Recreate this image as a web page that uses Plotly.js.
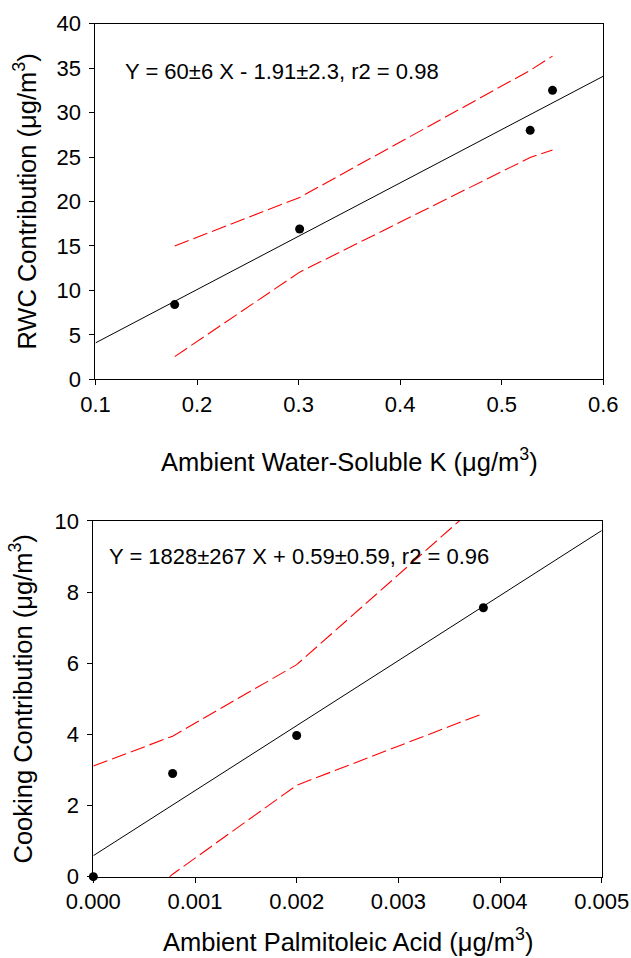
<!DOCTYPE html>
<html>
<head>
<meta charset="utf-8">
<script src="https://cdn.plot.ly/plotly-3.0.1.min.js"></script>
<style>html,body{margin:0;padding:0;background:#fff;}#chart{width:631px;height:958px;}</style>
</head>
<body>
<div id="chart"></div>
<script>
// ---- Top panel: RWC vs ambient water-soluble K ----
var kX = [0.178, 0.301, 0.528, 0.550];
var rwcY = [8.4, 16.9, 28.0, 32.5];
var kFitX = [0.1, 0.6];
var kFitY = [4.09, 34.09];
var kUpper = [15.0, 20.45, 34.75, 36.35];
var kLower = [2.55, 12.05, 24.95, 25.8];
var kEquation = "Y = 60±6 X - 1.91±2.3, r2 = 0.98";

// ---- Bottom panel: Cooking vs ambient palmitoleic acid ----
var paX = [0.0, 0.00078, 0.002, 0.003836];
var cookY = [0.0, 2.9, 3.97, 7.56];
var paFitX = [0.0, 0.005];
var paFitY = [0.59, 9.73];
var paUpper = [3.11, 3.95, 5.96, 10.6];
var paLower = [-1.93, 0.07, 2.57, 4.59];
var paEquation = "Y = 1828±267 X + 0.59±0.59, r2 = 0.96";
var paXTitle = "Ambient Palmitoleic Acid (μg/m<sup>3</sup>)";

var FONT = "Liberation Sans, Arial, sans-serif";
var dashRed = {color: "#ff0000", width: 1.1, dash: "15px,5px"};

var traces = [
  {x: kFitX, y: kFitY, mode: "lines", line: {color: "#000", width: 1}, xaxis: "x", yaxis: "y"},
  {x: kX, y: kUpper, mode: "lines", line: dashRed, xaxis: "x", yaxis: "y"},
  {x: kX, y: kLower, mode: "lines", line: dashRed, xaxis: "x", yaxis: "y"},
  {x: kX, y: rwcY, mode: "markers", marker: {color: "#000", size: 9}, cliponaxis: false, xaxis: "x", yaxis: "y"},
  {x: paFitX, y: paFitY, mode: "lines", line: {color: "#000", width: 1}, xaxis: "x2", yaxis: "y2"},
  {x: paX, y: paUpper, mode: "lines", line: dashRed, xaxis: "x2", yaxis: "y2"},
  {x: paX, y: paLower, mode: "lines", line: dashRed, xaxis: "x2", yaxis: "y2"},
  {x: paX, y: cookY, mode: "markers", marker: {color: "#000", size: 9}, cliponaxis: false, xaxis: "x2", yaxis: "y2"}
];

function axisBase(extra) {
  var a = {
    showgrid: false, zeroline: false, showline: true, mirror: true,
    linecolor: "#000", linewidth: 1, ticks: "outside", ticklen: 5, tickwidth: 1, tickcolor: "#000",
    tickfont: {family: FONT, size: 22, color: "#000"}
  };
  for (var k in extra) a[k] = extra[k];
  return a;
}

var titleFont = {family: FONT, size: 25.5, color: "#000"};

var layout = {
  width: 631, height: 958,
  margin: {l: 0, r: 0, t: 0, b: 0},
  paper_bgcolor: "#fff", plot_bgcolor: "#fff",
  showlegend: false,
  font: {family: FONT, color: "#000"},
  xaxis: axisBase({
    domain: [0.1513, 0.9561], anchor: "y", range: [0.1, 0.6], dtick: 0.1, tick0: 0.1, tickformat: ".1f",
    title: {text: "Ambient Water-Soluble K (μg/m<sup>3</sup>)", font: titleFont, standoff: 37}
  }),
  yaxis: axisBase({
    domain: [0.6041, 0.9753], anchor: "x", range: [0, 40], dtick: 5, ticklabelstandoff: 4,
    title: {text: "RWC Contribution (μg/m<sup>3</sup>)", font: titleFont, standoff: 12}
  }),
  xaxis2: axisBase({
    domain: [0.1479, 0.9536], anchor: "y2", range: [0, 0.005], dtick: 0.001, tick0: 0, tickformat: ".3f"
  }),
  yaxis2: axisBase({
    domain: [0.0849, 0.4562], anchor: "x2", range: [0, 10], dtick: 2, ticklabelstandoff: 4,
    title: {text: "Cooking Contribution (μg/m<sup>3</sup>)", font: titleFont, standoff: 14}
  }),
  annotations: [
    {text: kEquation, xref: "x", yref: "y", x: 0.127, y: 34.66, xanchor: "left", yanchor: "middle",
     showarrow: false, font: {family: FONT, size: 22, color: "#000"}},
    {text: paEquation, xref: "x2", yref: "y2", x: 0.00013, y: 8.99, xanchor: "left", yanchor: "middle",
     showarrow: false, font: {family: FONT, size: 22, color: "#000"}},
    {text: paXTitle, xref: "x2 domain", yref: "paper", x: 0.5, y: 0.0002, xanchor: "center", yanchor: "bottom",
     showarrow: false, font: titleFont}
  ]
};

Plotly.newPlot("chart", traces, layout, {displayModeBar: false, staticPlot: true});
</script>
</body>
</html>
